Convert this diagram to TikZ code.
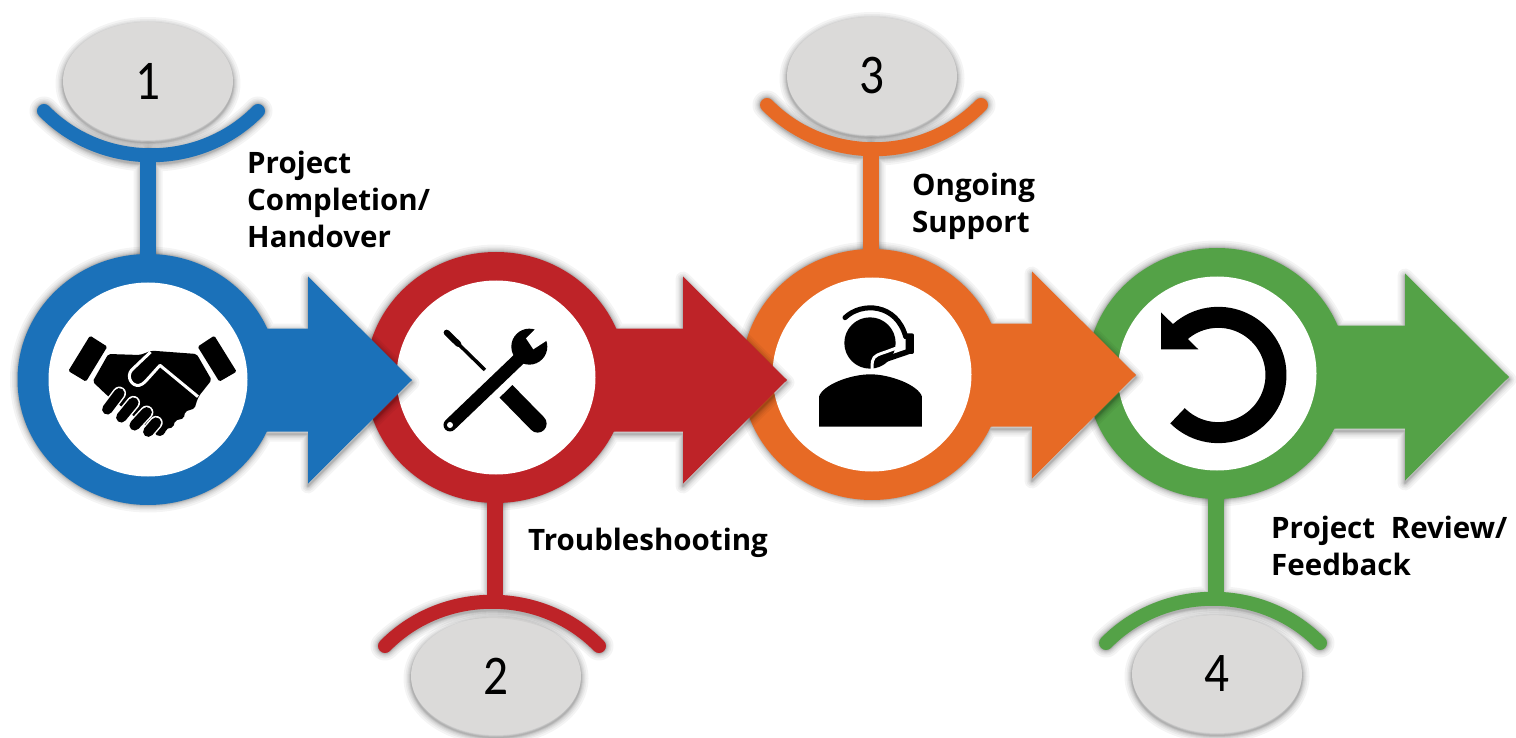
\documentclass[tikz,border=0pt]{standalone}
\usepackage{fontspec}
\usepackage{graphicx}
\usetikzlibrary{shapes.geometric}
\newfontfamily\lblfont{Open Sans}
\newfontfamily\digitfont{Carlito}
\definecolor{cblue}{HTML}{1B71B9}
\definecolor{cred}{HTML}{BE2328}
\definecolor{corange}{HTML}{E76A25}
\definecolor{cgreen}{HTML}{54A247}
\definecolor{cgray}{HTML}{DBDAD9}
\tikzset{
  ringnode/.style={ellipse,inner sep=0pt,minimum width=261pt,minimum height=251pt,fill=#1},
  holenode/.style={ellipse,inner sep=0pt,minimum width=199pt,minimum height=194pt,fill=white},
  numoval/.style={ellipse,inner sep=0pt,minimum width=170pt,minimum height=118pt,fill=cgray,
     font=\digitfont\fontsize{56}{60}\selectfont},
  cupline/.style={line width=14pt,line cap=round},
  stemline/.style={line width=16pt},
  lbl/.style={anchor=north west,inner sep=0pt,align=left,
     font=\lblfont\bfseries\fontsize{29.5}{37}\selectfont},
}
% #1 base stroke width (number), #2 path
\newcommand\softshadow[2]{%
  \foreach \w in {1,2,3,4,6,8,11,15}{%
    \pgfmathsetlengthmacro\lw{#1+\w}%
    \draw[black,opacity=.045,line width=\lw,line join=round,line cap=round,shift={(0,2.5)}] #2;
  }}
% #1 id, #2 colour, #3 cx, #4 cy, #5 arrow axis y, #6 head x, #7 stem x, #8 cup end y, #9 direction
\newcommand\stage[9]{%
  \coordinate (c#1) at (#3,#4);
  \coordinate (cup#1) at (#7,{#8+#9*44.6});
  \coordinate (cl#1) at ({#7+3*#9-107},#8);
  \coordinate (cr#1) at ({#7+3*#9+107},#8);
  \softshadow{14}{(cl#1) .. controls ({#7+3*#9-49},{#8+#9*59}) and ({#7+3*#9+49},{#8+#9*59}) .. (cr#1) (cup#1) -- (cup#1 |- c#1)}
  \softshadow{0}{(c#1) ellipse [x radius=130.5,y radius=125.5]
     (#3,{#5-51.5}) -- (#6,{#5-51.5}) -- (#6,{#5-103.5}) -- ({#6+104},#5) -- (#6,{#5+103.5}) -- (#6,{#5+51.5}) -- (#3,{#5+51.5}) -- cycle}
  \fill[#2] (#3,{#5-51.5}) -- (#6,{#5-51.5}) -- (#6,{#5-103.5}) -- ({#6+104},#5) -- (#6,{#5+103.5}) -- (#6,{#5+51.5}) -- (#3,{#5+51.5}) -- cycle;
  \node[ringnode=#2] (ring#1) at (c#1) {};
  \draw[#2,stemline] (cup#1) -- (cup#1 |- ring#1.center);
  \draw[#2,cupline] (cl#1) .. controls ({#7+3*#9-49},{#8+#9*59}) and ({#7+3*#9+49},{#8+#9*59}) .. (cr#1);
  \node[holenode] (hole#1) at (c#1) {};
}
\newcommand\numberoval[4]{%
  \softshadow{0}{(#2,#3) ellipse [x radius=85,y radius=59]}
  \node[numoval] (num#1) at (#2,#3) {\scalebox{.88}[1]{#4}};
}
\begin{document}
\begin{tikzpicture}[x=1pt,y=-1pt]
\useasboundingbox (0,0) rectangle (1516,738);
\fill[white] (0,0) rectangle (1516,738);

\numberoval{1}{148}{81}{1}
\numberoval{2}{496}{676}{2}
\numberoval{3}{872}{76}{3}
\numberoval{4}{1217}{674}{4}

\stage{4}{cgreen}{1217}{373.5}{377}{1405}{1216}{643}{-1}
\stage{3}{corange}{872}{374.5}{375}{1032}{871}{105}{1}
\stage{2}{cred}{496}{377.5}{380}{683}{495}{646}{-1}
\stage{1}{cblue}{148}{379.5}{380}{308}{148}{111}{1}

% handshake
\begin{scope}[shift={(0,230)},x=.3333pt,y=-.3333pt]
  \fill[black,rounded corners=1.5pt] (270,317) -- (322,350) -- (258,455) -- (205,423) -- cycle;
  \fill[black,rounded corners=1.5pt] (643,317) -- (593,350) -- (658,455) -- (710,425) -- cycle;
  \fill[black,rounded corners=2pt] (325,372) -- (420,375) -- (455,362) -- (590,372) -- (635,450) -- (597,498)
     -- (588,520) -- (585,535) -- (555,545) -- (552,565) -- (525,572) -- (520,592) -- (498,597) -- (495,612) -- (475,620)
     -- (455,600) -- (320,495) -- (278,455) -- cycle;
  \draw[white,line width=3pt,line join=round] (452,366) -- (395,420) .. controls (378,440) and (395,470) .. (418,466)
     .. controls (430,464) and (440,450) .. (480,406) -- (594,500);
  \foreach \xa/\ya/\xb/\yb in {322/538/358/490,364/562/400/518,404/586/440/547,445/605/468/578}{
    \draw[white,line width=13.5pt,line cap=round] (\xa,\ya) -- (\xb,\yb);
    \draw[black,line width=10.5pt,line cap=round] (\xa,\ya) -- (\xb,\yb);
  }
\end{scope}

% tools
\begin{scope}[shift={(370,250)},x=.3333pt,y=-.3333pt]
  \draw[black,line width=6pt,line cap=round] (230,248) -- (265,282);
  \draw[black,line width=3.5pt] (262,279) -- (345,360);
  \draw[black,line width=18pt] (408,424) -- (503,521);
  \fill[black] (503,521) circle [radius=27];
  \draw[white,line width=18pt] (240,525) -- (470,305);
  \draw[black,line width=13pt,line cap=round] (240,525) -- (470,305);
  \fill[black] (478,290) circle [radius=54];
  \fill[white] (468,265) -- (540,193) -- (590,233) -- (490,298) -- cycle;
  \fill[white] (240,525) circle [radius=9];
\end{scope}

% headset agent
\begin{scope}[shift={(740,250)},x=.3333pt,y=-.3333pt]
  \fill[black] (237,530) -- (546,530) -- (546,440) .. controls (535,405) and (450,373) .. (392,373)
     .. controls (330,373) and (248,405) .. (237,440) -- cycle;
  \fill[black] (390,279) circle [radius=77];
  \draw[black,line width=5pt,line cap=round] (315,203) .. controls (365,155) and (470,160) .. (497,260);
  \draw[white,line width=3pt] (396,358) -- (397,335) .. controls (400,315) and (420,312) .. (440,305) -- (480,290);
  \draw[black,line width=5.5pt,line cap=round] (510,303) -- (425,332);
  \fill[black,rounded corners=2pt] (497,250) rectangle (522,312);
\end{scope}

% undo arrow
\begin{scope}[shift={(1090,250)},x=.3333pt,y=-.3333pt]
  \draw[black,line width=21pt] plot[domain=135:-135,samples=70,smooth] ({385+173*cos(\x)},{375+173*sin(\x)});
  \fill[black] (213,187) -- (213,298) -- (325,298) -- cycle;
\end{scope}

\node[lbl] (t1) at (247,151) {Project\\Completion/\\Handover};
\node[lbl] (t2) at (528,528) {Troubleshooting};
\node[lbl] (t3) at (912,173) {Ongoing\\Support};
\node[lbl] (t4) at (1271,516) {Project\hspace{8pt} Review/\\Feedback};
\end{tikzpicture}
\end{document}
